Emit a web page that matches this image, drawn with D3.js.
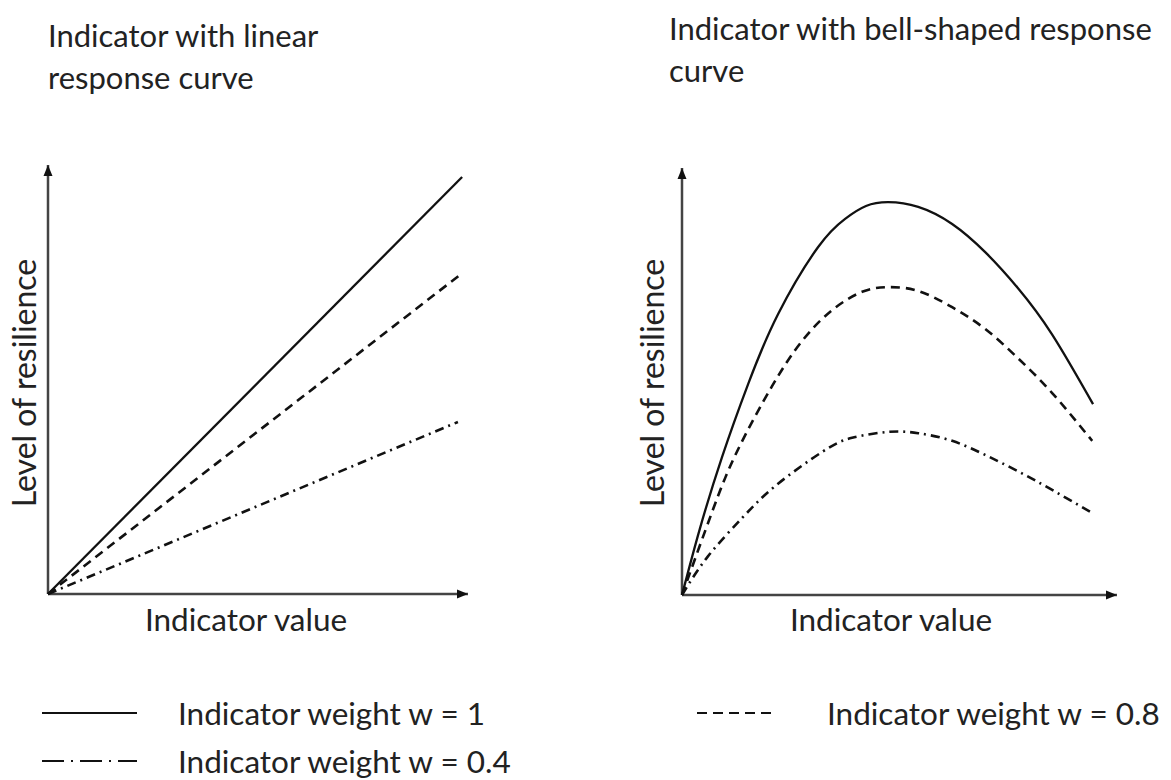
<!DOCTYPE html>
<html>
<head>
<meta charset="utf-8">
<script src="https://cdn.jsdelivr.net/npm/d3@7"></script>
<style>
  body { margin: 0; background: #fff; }
  svg text { font-family: Lato, "Open Sans", sans-serif; fill: #222; }
</style>
</head>
<body>
<div id="chart"></div>
<script>
// weights shown in the legend
var weights = [1, 0.8, 0.4];
var weightLabels = ["Indicator weight w = 1", "Indicator weight w = 0.8", "Indicator weight w = 0.4"];

// linear response (x, y on a 0-100 scale)
var linearW1  = [[0, 0], [98.6, 97.2]];
var linearW08 = [[0, 0], [98.1, 74.4]];
var linearW04 = [[0, 0], [97.6, 40.1]];

// bell-shaped response
var bellW1 = [[0, 0], [4.1, 15.5], [9.2, 32.3], [15.2, 49.4], [22.1, 65.8], [31.3, 81.5], [37.5, 88.1],
  [42.3, 91.1], [47.4, 92.0], [54.3, 90.9], [62.1, 86.9], [69.7, 80.3], [77.2, 71.9], [85.1, 61.0], [94.5, 44.7]];
var bellW08 = [[0, 0], [6.9, 19.4], [12.6, 33.5], [20.7, 48.9], [27.6, 59.5], [34.5, 66.7], [41.4, 71.0],
  [47.4, 72.1], [54.3, 71.2], [62.1, 67.4], [69.7, 62.3], [77.2, 55.5], [85.1, 47.3], [94.3, 36.1]];
var bellW04 = [[0, 0], [6.0, 9.1], [13.8, 18.0], [21.4, 25.5], [32.2, 33.5], [39.1, 36.8], [47.4, 38.2],
  [54.3, 37.9], [62.1, 36.1], [69.7, 32.8], [77.2, 29.0], [85.1, 24.6], [94.3, 19.2]];

var titles = [["Indicator with linear", "response curve"], ["Indicator with bell-shaped response", "curve"]];
var xLabel = "Indicator value";
var yLabel = "Level of resilience";

var W = 1171, H = 780;
var dashes = { 1: null, 0.8: "9,6", 0.4: "9,5,2,5" };

var svg = d3.select("#chart").append("svg")
    .attr("width", W)
    .attr("height", H);

svg.append("defs").append("marker")
    .attr("id", "arrow")
    .attr("markerUnits", "userSpaceOnUse")
    .attr("markerWidth", 12)
    .attr("markerHeight", 10)
    .attr("refX", 11)
    .attr("refY", 5)
    .attr("orient", "auto")
  .append("path")
    .attr("d", "M0,0.5 L11,5 L0,9.5 Z")
    .attr("fill", "#111");

var panels = [
  { x0: 48, x1: 468, y0: 594, y1: 165, title: titles[0], tx: 48, ty: 47, labX: 246, ylx: 36,
    series: [linearW1, linearW08, linearW04], curve: d3.curveLinear },
  { x0: 682, x1: 1117, y0: 595, y1: 168, title: titles[1], tx: 669, ty: 40, labX: 891, ylx: 664,
    series: [bellW1, bellW08, bellW04], curve: d3.curveNatural }
];

panels.forEach(function (p) {
  var x = d3.scaleLinear().domain([0, 100]).range([p.x0, p.x1]);
  var y = d3.scaleLinear().domain([0, 100]).range([p.y0, p.y1]);
  var g = svg.append("g");

  // axes with arrow heads
  g.append("line")
      .attr("x1", x(0)).attr("y1", y(0))
      .attr("x2", x(100)).attr("y2", y(0))
      .attr("stroke", "#444").attr("stroke-width", 2.5)
      .attr("marker-end", "url(#arrow)");
  g.append("line")
      .attr("x1", x(0)).attr("y1", y(0))
      .attr("x2", x(0)).attr("y2", y(100))
      .attr("stroke", "#444").attr("stroke-width", 2.5)
      .attr("marker-end", "url(#arrow)");

  var line = d3.line()
      .x(function (d) { return x(d[0]); })
      .y(function (d) { return y(d[1]); })
      .curve(p.curve);

  g.selectAll("path.series")
      .data(p.series)
    .enter().append("path")
      .attr("class", "series")
      .attr("d", line)
      .attr("fill", "none")
      .attr("stroke", "#111")
      .attr("stroke-width", function (d, i) { return i === 0 ? 2.3 : 2.6; })
      .attr("stroke-dasharray", function (d, i) { return dashes[weights[i]]; });

  // title (two lines)
  g.append("text")
      .attr("x", p.tx).attr("y", p.ty)
      .style("font-size", "31px")
    .selectAll("tspan")
      .data(p.title)
    .enter().append("tspan")
      .attr("x", p.tx)
      .attr("dy", function (d, i) { return i === 0 ? 0 : 42; })
      .text(function (d) { return d; });

  g.append("text")
      .attr("x", p.labX).attr("y", 631)
      .attr("text-anchor", "middle")
      .style("font-size", "31.5px")
      .text(xLabel);

  g.append("text")
      .attr("transform", "translate(" + p.ylx + "," + 383 + ") rotate(-90)")
      .attr("text-anchor", "middle")
      .style("font-size", "32px")
      .text(yLabel);
});

// legend
var legend = [
  { w: 1,   x: 42,  y: 713, len: 95, tx: 178 },
  { w: 0.8, x: 697, y: 713, len: 78, tx: 827 },
  { w: 0.4, x: 42,  y: 761, len: 95, tx: 178 }
];
var legendDash = { 1: null, 0.8: "10,6", 0.4: "22,7,2,7" };

var lg = svg.selectAll("g.legend")
    .data(legend)
  .enter().append("g")
    .attr("class", "legend");

lg.append("line")
    .attr("x1", function (d) { return d.x; })
    .attr("x2", function (d) { return d.x + d.len; })
    .attr("y1", function (d) { return d.y; })
    .attr("y2", function (d) { return d.y; })
    .attr("stroke", "#111")
    .attr("stroke-width", 2)
    .attr("stroke-dasharray", function (d) { return legendDash[d.w]; });

lg.append("text")
    .attr("x", function (d) { return d.tx; })
    .attr("y", function (d) { return d.y + 12; })
    .style("font-size", "31.5px")
    .text(function (d) { return weightLabels[weights.indexOf(d.w)]; });
</script>
</body>
</html>
